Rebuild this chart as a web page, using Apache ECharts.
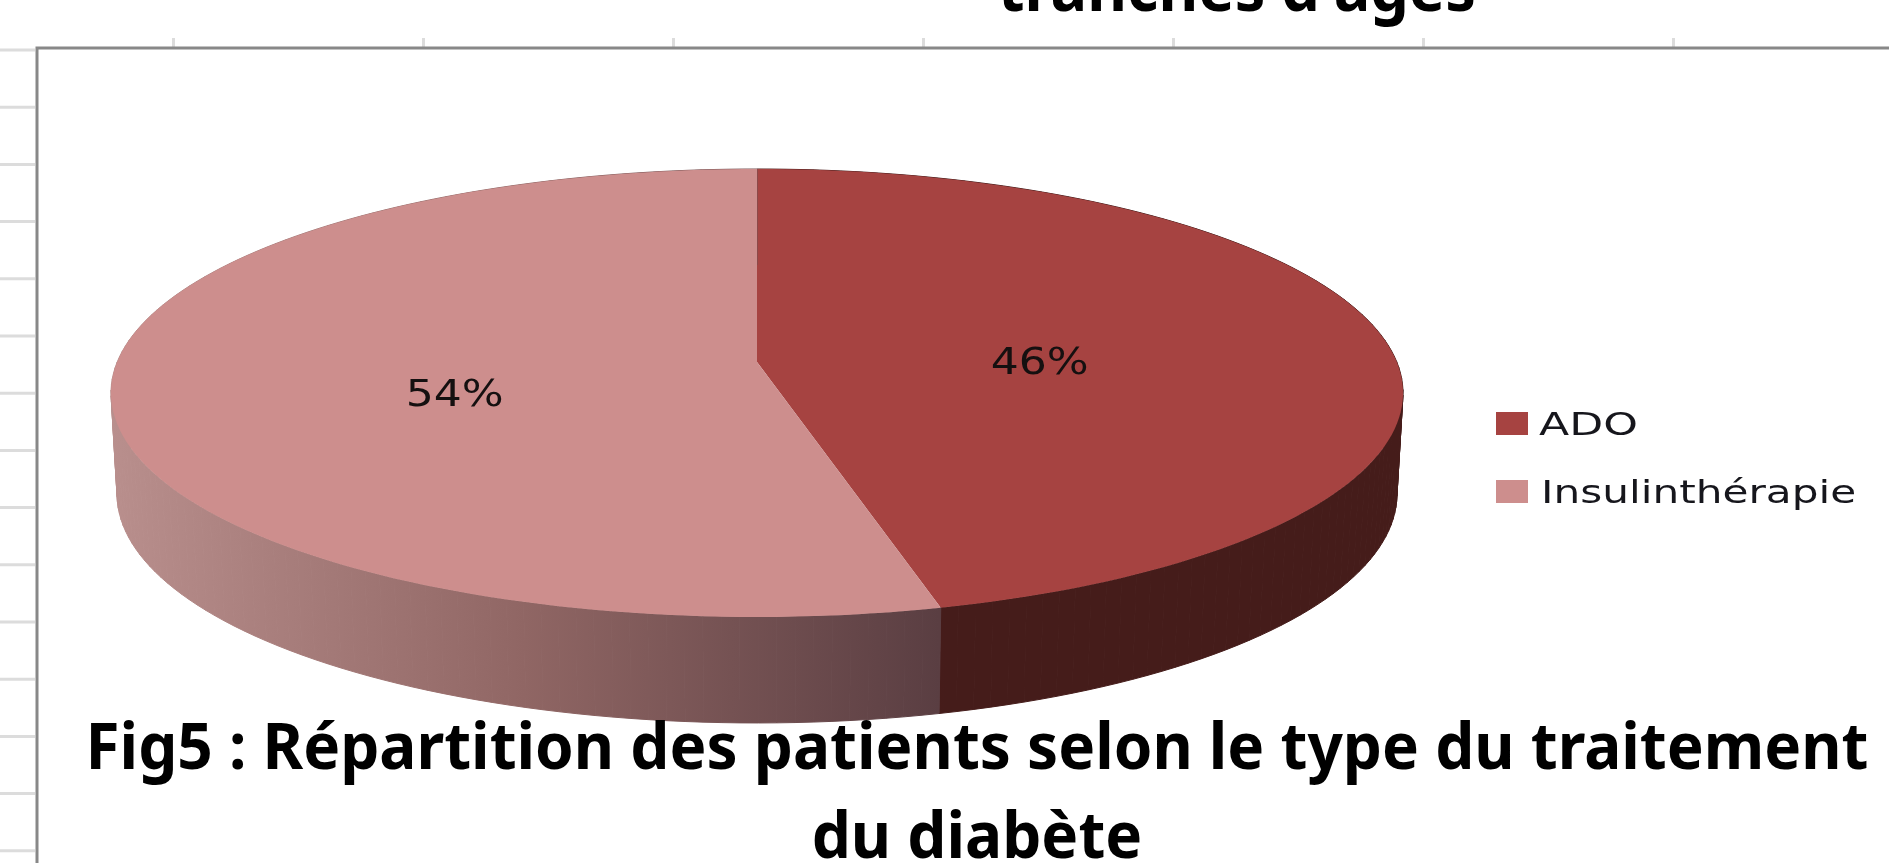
<!DOCTYPE html>
<html>
<head>
<meta charset="utf-8">
<title>Fig5</title>
<style>
  html, body { margin: 0; padding: 0; background: #fff; }
  #chart { width: 1889px; height: 863px; }
</style>
<script src="https://cdn.jsdelivr.net/npm/echarts@6/dist/echarts.min.js"></script>
</head>
<body>
<div id="chart"></div>
<script>
const categories = ['ADO', 'Insulinthérapie'];
const values = [46, 54];
const topColors = ['#a64341', '#cd8e8d'];
const titleLines = ['Fig5 : Répartition des patients selon le type du traitement', 'du diabète'];
const clippedTitle = "tranches d'âges";

// the Excel pie is in perspective, so the centre is not the middle of the ellipse
const persp = -0.1384;
const topFace = { cx: 757, a: 169.6, b: 362, d: 639.8 };
const bottomFace = { cx: 757, a: 160.6, b: 462.3, d: 633.8 };
const labelRadius = 0.46;
const labelDx = [-7, -8];
const labelDy = [15, 21];

const total = values.reduce((s, v) => s + v, 0);

function project(face, theta, r) {
  const u = Math.sin(theta) * r;
  const v = -Math.cos(theta) * r;
  const w = 1 + persp * v;
  return [face.cx + face.d * u / w, (face.a * v + face.b) / w];
}

function arc(face, from, to) {
  const pts = [];
  const steps = Math.ceil((to - from) * 40);
  for (let i = 0; i <= steps; i++) {
    pts.push(project(face, from + (to - from) * i / steps, 1));
  }
  return pts;
}

const wallFill = [
  { type: 'linear', global: true, x: 757, y: 0, x2: 1402, y2: 0, colorStops: [
    { offset: 0, color: '#4d1c1b' }, { offset: 0.3, color: '#451c1a' }, { offset: 1, color: '#451c1a' }
  ] },
  { type: 'linear', global: true, x: 110, y: 0, x2: 939, y2: 0, colorStops: [
    { offset: 0, color: '#b98f8d' }, { offset: 0.5, color: '#906664' }, { offset: 1, color: '#5a3e42' }
  ] }
];

function renderSlice(params, api) {
  const i = params.dataIndex;
  const before = values.slice(0, i).reduce((s, v) => s + v, 0);
  const from = before / total * Math.PI * 2;
  const to = (before + api.value(0)) / total * Math.PI * 2;
  const mid = (from + to) / 2;
  const topArc = arc(topFace, from, to);
  const bottomArc = arc(bottomFace, from, to);
  const labelPos = project(topFace, mid, labelRadius);
  // wall in small quads, so the straight silhouette between the two faces is filled too
  const wall = [];
  for (let k = 0; k < topArc.length - 1; k++) {
    wall.push({
      type: 'polygon',
      shape: { points: [topArc[k], topArc[k + 1], bottomArc[k + 1], bottomArc[k]] },
      style: { fill: wallFill[i], stroke: wallFill[i], lineWidth: 1 }
    });
  }
  return {
    type: 'group',
    children: wall.concat([
      {
        type: 'polygon',
        shape: { points: [project(topFace, 0, 0)].concat(topArc) },
        style: { fill: topColors[i] }
      },
      {
        type: 'text',
        x: labelPos[0] + labelDx[i],
        y: labelPos[1] + labelDy[i],
        scaleX: 1.16,
        style: {
          text: Math.round(api.value(0) / total * 100) + '%',
          fontFamily: 'DejaVu Sans',
          fontSize: 38,
          fill: '#151010',
          align: 'center',
          verticalAlign: 'middle'
        }
      }
    ])
  };
}

// sheet cells and chart frame behind the pie
const frameLeft = 37;
const frameTop = 48;
const cellTicks = [];
for (let x = 173.5; x < 1889; x += 250) {
  cellTicks.push({ type: 'line', shape: { x1: x, y1: 38, x2: x, y2: 47 }, style: { stroke: '#dcdcdc', lineWidth: 3 } });
}
for (let y = 50; y < 863; y += 57.2) {
  cellTicks.push({ type: 'line', shape: { x1: 0, y1: y, x2: 35, y2: y }, style: { stroke: '#dcdcdc', lineWidth: 3 } });
}

const legendStretch = [1.4, 1.34];
const legendItems = [];
categories.forEach((name, i) => {
  const top = 412 + i * 68;
  legendItems.push({ type: 'rect', shape: { x: 1496, y: top, width: 32, height: 23 }, style: { fill: topColors[i] } });
  legendItems.push({
    type: 'text',
    x: 1539 + (i ? 2 : 0),
    y: top + 15,
    scaleX: legendStretch[i],
    style: { text: name, fontFamily: 'DejaVu Sans', fontSize: 31.5, fill: '#16161c', align: 'left', verticalAlign: 'middle' }
  });
});

function titleText(text, x, y, scaleX) {
  return {
    type: 'text', x, y, scaleX, z: 10,
    style: { text, fontFamily: 'Noto Sans', fontWeight: 'bold', fontSize: 65, fill: '#000', align: 'center', verticalAlign: 'middle' }
  };
}

const chart = echarts.init(document.getElementById('chart'), null, { renderer: 'canvas' });
chart.setOption({
  animation: false,
  backgroundColor: '#fff',
  graphic: [
    ...cellTicks,
    { type: 'polyline', shape: { points: [[frameLeft, 863], [frameLeft, frameTop], [1889, frameTop]] }, style: { stroke: '#888', lineWidth: 3, fill: null } },
    ...legendItems,
    titleText(clippedTitle, 1237, -8, 0.94),
    titleText(titleLines[0], 977, 750, 0.954),
    titleText(titleLines[1], 977, 839, 0.954)
  ],
  series: [
    {
      type: 'custom',
      coordinateSystem: 'none',
      renderItem: renderSlice,
      data: values
    }
  ]
});
</script>
</body>
</html>
